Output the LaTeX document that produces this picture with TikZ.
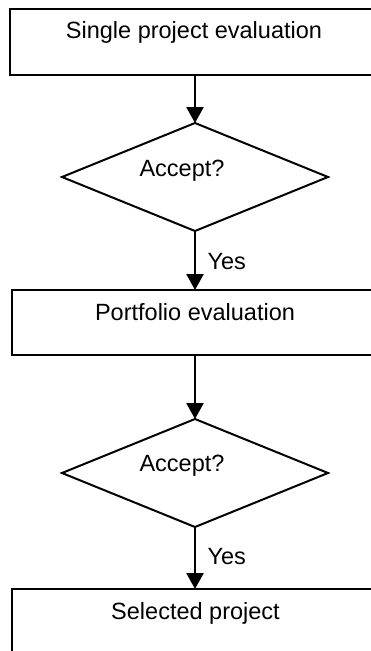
\documentclass[tikz,border=0pt]{standalone}
\usepackage{fontspec}
\setmainfont{Liberation Sans}
\usetikzlibrary{shapes.geometric,arrows.meta}

\begin{document}
\begin{tikzpicture}[x=1pt,y=-1pt,
    every node/.style={inner sep=0pt, outer sep=0pt},
    label/.style={anchor=base, font=\fontsize{23.5}{28}\selectfont},
    stepbox/.style={draw, line width=2pt, rectangle},
    choice/.style={draw, line width=2pt, diamond, minimum width=266pt, minimum height=108pt},
    flow/.style={line width=2.6pt, -{Triangle[width=17pt,length=16pt]}}]
  \useasboundingbox (0,0) rectangle (371,651);
  \clip (0,0) rectangle (371,651);

  % process boxes (running off the right and bottom edges)
  \node[stepbox, minimum width=361.5pt, minimum height=66pt] (box1) at (190.75,42) {};
  \node[stepbox, minimum width=361pt, minimum height=65pt] (box2) at (192.5,322.5) {};
  \node[stepbox, minimum width=361pt, minimum height=90pt] (box3) at (192.5,634) {};

  % decisions
  \node[choice] (dec1) at (195,177) {};
  \node[choice] (dec2) at (195,473) {};

  % texts
  \node[label] (t1) at (194,38.5) {Single project evaluation};
  \node[label] (t2) at (182,176) {Accept?};
  \node[label] (t3) at (195,320) {Portfolio evaluation};
  \node[label] (t4) at (182,471) {Accept?};
  \node[label] (t5) at (195.5,619.5) {Selected project};
  \node[label, anchor=base west] (y1) at (207.5,269) {Yes};
  \node[label, anchor=base west] (y2) at (207.5,564) {Yes};

  % connectors
  \draw[flow] (dec1.north |- box1.south) -- (dec1.north);
  \draw[flow] (dec1.south) -- (dec1.south |- box2.north);
  \draw[flow] (dec2.north |- box2.south) -- (dec2.north);
  \draw[flow] (dec2.south) -- (dec2.south |- box3.north);
\end{tikzpicture}
\end{document}
